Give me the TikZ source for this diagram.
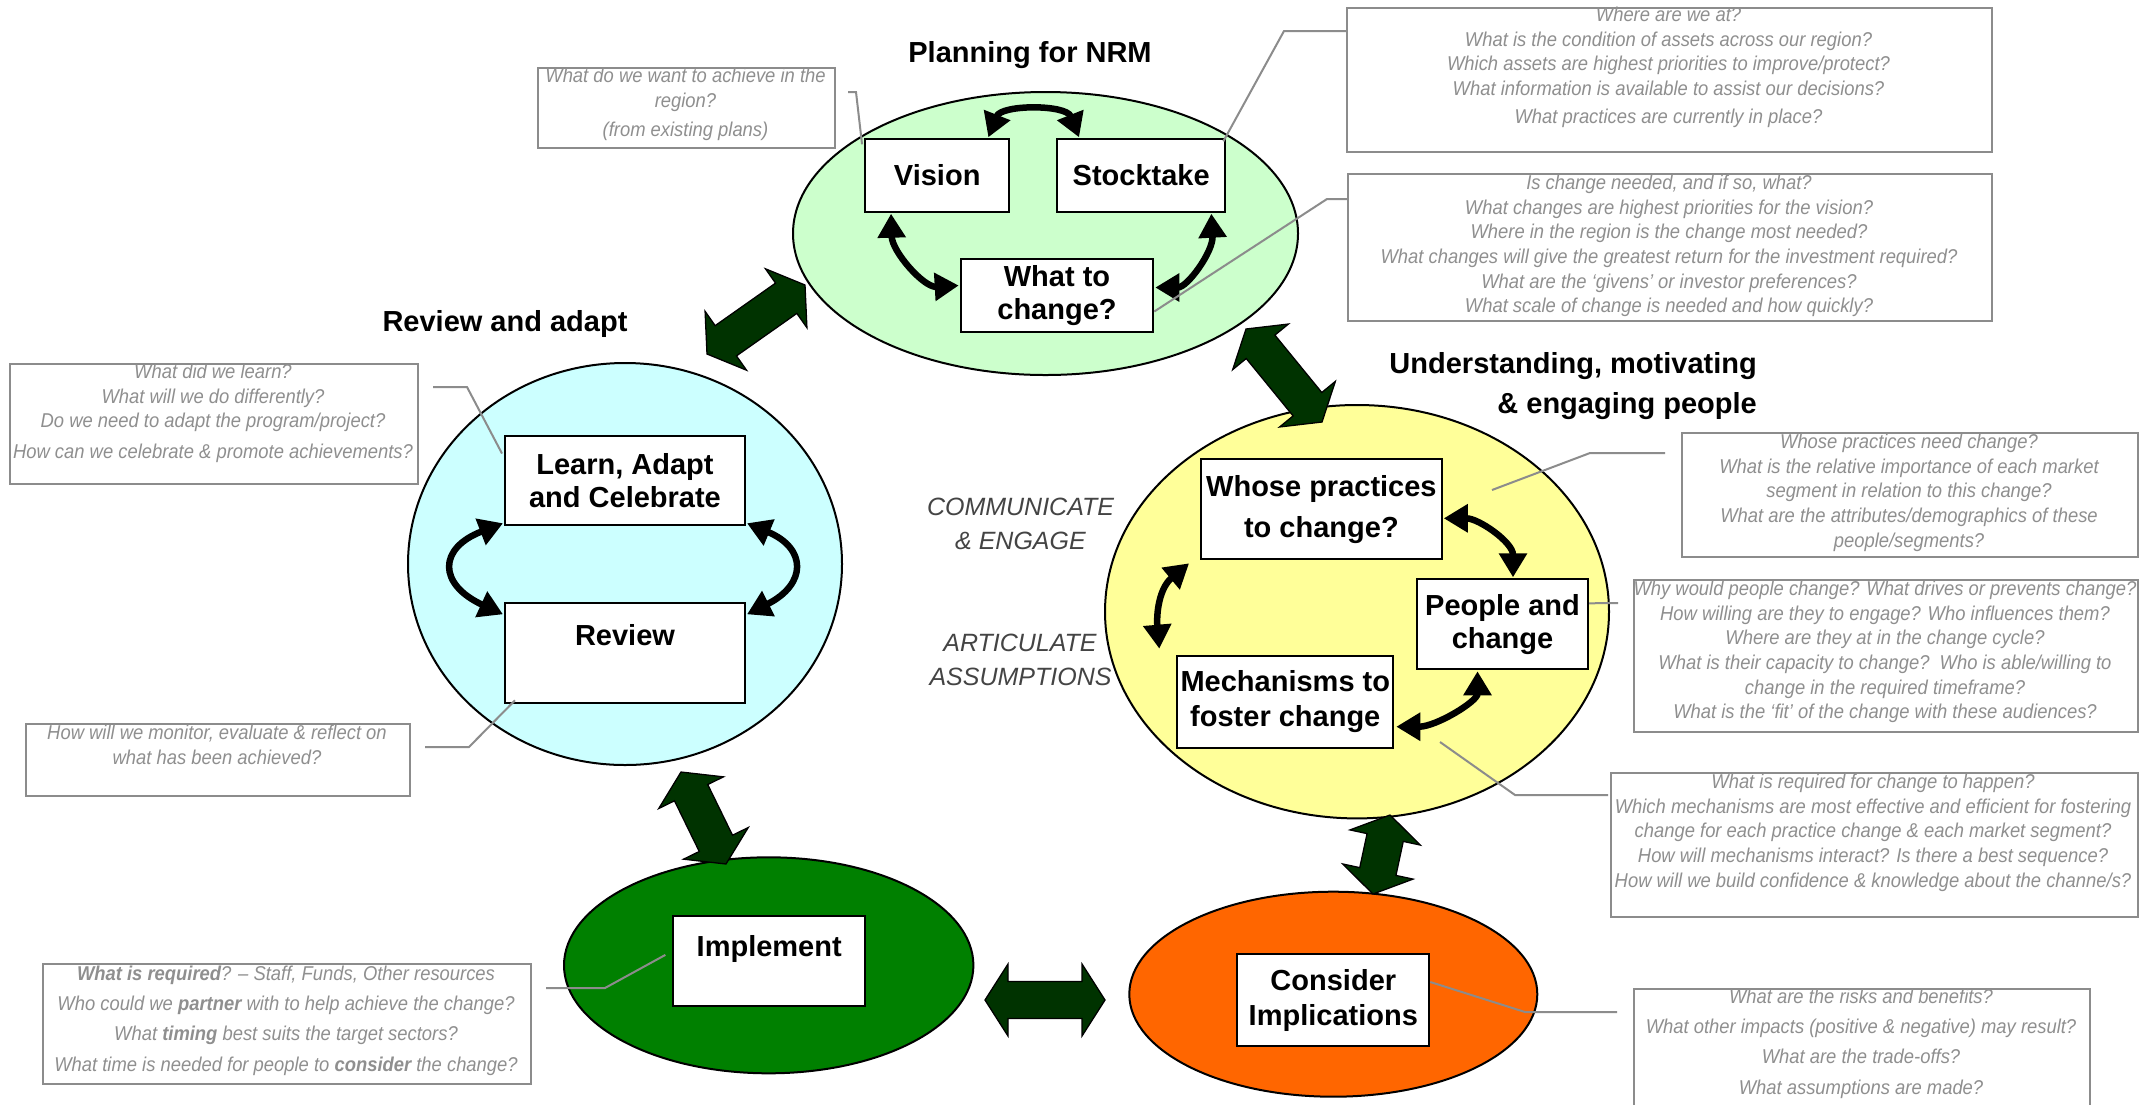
\documentclass[tikz,border=0pt]{standalone}
\usepackage{fontspec}
\setmainfont{Liberation Sans}
\newfontfamily\qfont[FakeStretch=0.92]{Liberation Sans}
\usetikzlibrary{calc,arrows.meta}
\definecolor{lgreen}{HTML}{CCFFCC}
\definecolor{lcyan}{HTML}{CCFFFF}
\definecolor{lyellow}{HTML}{FFFF99}
\definecolor{orng}{HTML}{FF6600}
\definecolor{mgreen}{HTML}{008000}
\definecolor{dgreen}{HTML}{003300}
\definecolor{qgrey}{HTML}{8C8C8C}
\definecolor{qtext}{HTML}{8F8F8F}
\definecolor{sidegrey}{HTML}{444444}
\newcommand\dblarrow[2]{%
 \filldraw[bigarrow] (#1) -- ($(#1)!23pt!(#2)!36pt!90:(#2)$) -- ($(#1)!23pt!(#2)!18.5pt!90:(#2)$)
 -- ($(#2)!23pt!(#1)!18.5pt!-90:(#1)$) -- ($(#2)!23pt!(#1)!36pt!-90:(#1)$) -- (#2)
 -- ($(#2)!23pt!(#1)!36pt!90:(#1)$) -- ($(#2)!23pt!(#1)!18.5pt!90:(#1)$)
 -- ($(#1)!23pt!(#2)!18.5pt!-90:(#2)$) -- ($(#1)!23pt!(#2)!36pt!-90:(#2)$) -- cycle;}
\tikzset{
 ell/.style={draw=black, line width=2pt},
 lbl/.style={draw=black, line width=2pt, fill=white, font=\fontsize{29}{33}\selectfont\bfseries, align=center, inner sep=0pt},
 ttl/.style={font=\fontsize{29}{33}\selectfont\bfseries, inner sep=0pt},
 side/.style={font=\fontsize{25}{30}\selectfont\itshape, text=sidegrey, inner sep=0pt},
 qbox/.style={draw=qgrey, line width=2.2pt, inner sep=0pt, anchor=north west},
 qtxt/.style={text=qtext, font=\qfont\itshape\fontsize{20}{24.6}\selectfont, align=center, inner sep=0pt, anchor=north},
 leader/.style={draw=qgrey, line width=2pt},
 blk/.style={line width=6.5pt, draw=black, {Triangle[length=24pt,width=27pt]}-{Triangle[length=24pt,width=27pt]}},
 bigarrow/.style={fill=dgreen, draw=black, line width=1.3pt, line join=miter}
}
\begin{document}
\begin{tikzpicture}[x=1pt,y=-1pt]
\useasboundingbox (0,0) rectangle (2149,1104);
\clip (0,0) rectangle (2149,1104);
\fill[white] (0,0) rectangle (2149,1104);

% ellipses
\draw[ell, fill=lgreen] (1045.5,233.5) ellipse [x radius=252.5pt, y radius=141.5pt];
\draw[ell, fill=lcyan] (625,564) ellipse [x radius=217pt, y radius=201pt];
\draw[ell, fill=lyellow] (1357,611.7) ellipse [x radius=252pt, y radius=206.7pt];
\draw[ell, fill=orng] (1333.3,994.2) ellipse [x radius=204pt, y radius=102.5pt];
\draw[ell, fill=mgreen] (768.7,965.3) ellipse [x radius=204.7pt, y radius=108pt];

% big double arrows
\coordinate (aA1) at (707,354); \coordinate (aA2) at (805,285);
\coordinate (aB1) at (1246,329); \coordinate (aB2) at (1322,422);
\coordinate (aC1) at (1390,815); \coordinate (aC2) at (1373,894);
\coordinate (aD1) at (985,1000); \coordinate (aD2) at (1105,1000);
\coordinate (aE1) at (681,772); \coordinate (aE2) at (726,864);
\dblarrow{aA1}{aA2}
\dblarrow{aB1}{aB2}
\dblarrow{aC1}{aC2}
\dblarrow{aD1}{aD2}
\dblarrow{aE1}{aE2}

% titles
\node[ttl, anchor=base] (tplan) at (1030,62) {Planning for NRM};
\node[ttl, anchor=base] (trev) at (505,331) {Review and adapt};
\node[ttl, anchor=base east] (tund1) at (1757,373) {Understanding, motivating};
\node[ttl, anchor=base east] (tund2) at (1757,413) {\& engaging people};

% side labels
\node[side, anchor=base] (s1) at (1020.5,515) {COMMUNICATE};
\node[side, anchor=base] (s2) at (1020.5,549.3) {\& ENGAGE};
\node[side, anchor=base] (s3) at (1020,651.7) {ARTICULATE};
\node[side, anchor=base] (s4) at (1020.5,685) {ASSUMPTIONS};

% label boxes
\node[lbl, minimum width=144.3pt, minimum height=72.4pt] (vision) at (937.2,175.5) {Vision};
\node[lbl, minimum width=168.3pt, minimum height=72.4pt] (stock) at (1141.2,175.5) {Stocktake};
\node[lbl, minimum width=192.6pt, minimum height=72.4pt] (what) at (1057,295.5) {What to\\change?};
\node[lbl, minimum width=240pt, minimum height=89.5pt] (learn) at (625,480.5) {Learn, Adapt\\and Celebrate};
\node[lbl, minimum width=240pt, text height=42pt, text depth=58pt] (review) at (625,653.3) {Review};
\node[lbl, minimum width=240.7pt, minimum height=100pt] (whose) at (1321.4,509.3) {Whose practices\\[8pt]to change?};
\node[lbl, minimum width=171pt, minimum height=90pt] (people) at (1502.5,624.3) {People and\\change};
\node[lbl, minimum width=216pt, minimum height=92pt] (mech) at (1285.3,701.7) {Mechanisms to\\[2pt]foster change};
\node[lbl, minimum width=191.7pt, text height=40.7pt, text depth=49pt] (implement) at (769.2,960.9) {Implement};
\node[lbl, minimum width=192pt, minimum height=92pt] (consider) at (1333.3,1000) {Consider\\[2pt]Implications};

% small curved double arrows
\draw[blk] ($(vision.north east)+(-22,-1)$) .. controls +(13,-33) and +(-13,-33) .. ($(stock.north west)+(23,-1)$);
\draw[blk] ($(vision.south west)+(27,1)$) .. controls +(1,38) and +(-35,2) .. ($(what.west)+(-1,-10)$);
\draw[blk] ($(stock.south east)+(-15,1)$) .. controls +(2,38) and +(32,0) .. ($(what.east)+(1,-8)$);
\draw[blk] ($(learn.south west)+(-1,-3)$) .. controls +(-65,25) and +(-65,-30) .. ($(review.north west)+(-1,12)$);
\draw[blk] ($(learn.south east)+(1,-3)$) .. controls +(60,25) and +(60,-30) .. ($(review.north east)+(1,12)$);
\draw[blk] ($(whose.east)+(1,9)$) .. controls +(35,0) and +(0,-35) .. ($(people.north)+(10.5,-1)$);
\draw[blk] ($(people.south)+(-25,1)$) .. controls +(0,30) and +(40,0) .. ($(mech.east)+(2,25)$);
\draw[blk] ($(whose.south west)+(-11,3)$) .. controls +(-30,25) and +(-3,-35) .. ($(mech.north west)+(-17,-6)$);

% question boxes
\node[qbox, minimum width=297pt, minimum height=80pt] (qv) at (537,67) {};
\node[qbox, minimum width=645pt, minimum height=144pt] (qs) at (1346,7) {};
\node[qbox, minimum width=644pt, minimum height=147pt] (qw) at (1347,173) {};
\node[qbox, minimum width=408pt, minimum height=120pt] (ql) at (9,363) {};
\node[qbox, minimum width=384pt, minimum height=72pt] (qr) at (25,723) {};
\node[qbox, minimum width=488pt, minimum height=120pt] (qi) at (42,963) {};
\node[qbox, minimum width=456pt, minimum height=124pt] (qwh) at (1681,432) {};
\node[qbox, minimum width=504pt, minimum height=152pt] (qp) at (1633,579) {};
\node[qbox, minimum width=527pt, minimum height=144pt] (qm) at (1610,772) {};
\node[qbox, minimum width=456pt, minimum height=140pt] (qc) at (1633,988) {};

% question texts
\node[qtxt] (qvt) at (685.5,68) {What do we want to achieve in the\\region?\\[5pt](from existing plans)};
\node[qtxt] (qst) at (1668.5,7) {Where are we at?\\What is the condition of assets across our region?\\Which assets are highest priorities to improve/protect?\\What information is available to assist our decisions?\\[3pt]What practices are currently in place?};
\node[qtxt] (qwt) at (1669,175) {Is change needed, and if so, what?\\What changes are highest priorities for the vision?\\Where in the region is the change most needed?\\What changes will give the greatest return for the investment required?\\What are the ‘givens’ or investor preferences?\\What scale of change is needed and how quickly?};
\node[qtxt] (qlt) at (213,364) {What did we learn?\\What will we do differently?\\Do we need to adapt the program/project?\\[6pt]How can we celebrate \& promote achievements?};
\node[qtxt] (qrt) at (217,725) {How will we monitor, evaluate \& reflect on\\what has been achieved?};
\node[qtxt] (qit) at (286,966) {\textbf{What is required}? – Staff, Funds, Other resources\\[5.5pt]Who could we \textbf{partner} with to help achieve the change?\\[5.5pt]What \textbf{timing} best suits the target sectors?\\[5.5pt]What time is needed for people to \textbf{consider} the change?};
\node[qtxt] (qwht) at (1909,434) {Whose practices need change?\\What is the relative importance of each market\\segment in relation to this change?\\What are the attributes/demographics of these\\people/segments?};
\node[qtxt] (qpt) at (1885,581) {Why would people change? What drives or prevents change?\\How willing are they to engage? Who influences them?\\Where are they at in the change cycle?\\What is their capacity to change?\ \ Who is able/willing to\\change in the required timeframe?\\What is the ‘fit’ of the change with these audiences?};
\node[qtxt] (qmt) at (1873,774) {What is required for change to happen?\\Which mechanisms are most effective and efficient for fostering\\change for each practice change \& each market segment?\\How will mechanisms interact? Is there a best sequence?\\How will we build confidence \& knowledge about the channe/s?};
\node[qtxt] (qct) at (1861,989) {What are the risks and benefits?\\[5.5pt]What other impacts (positive \& negative) may result?\\[5.5pt]What are the trade-offs?\\[5.5pt]What assumptions are made?};

% leader lines
\coordinate (lv1) at (856,92); \coordinate (lv2) at (848,92);
\coordinate (ls1) at (1284,31); \coordinate (ls2) at (1346,31);
\coordinate (lw1) at (1327,199); \coordinate (lw2) at (1347,199);
\coordinate (ll1) at (467,387); \coordinate (ll2) at (433,387);
\coordinate (lr1) at (469,747); \coordinate (lr2) at (425,747);
\coordinate (li1) at (605,988); \coordinate (li2) at (546,988);
\coordinate (lwh0) at (1492,490); \coordinate (lwh1) at (1590,453); \coordinate (lwh2) at (1665,453);
\coordinate (lp1) at (1618,603);
\coordinate (lm0) at (1440,742); \coordinate (lm1) at (1515,795); \coordinate (lm2) at (1608,795);
\coordinate (lc1) at (1525,1012); \coordinate (lc2) at (1617,1012);
\draw[leader] ($(vision.north west)+(-2,6)$) -- (lv1) -- (lv2);
\draw[leader] ($(stock.north east)+(-3,3)$) -- (ls1) -- (ls2);
\draw[leader] ($(what.east)+(0,16)$) -- (lw1) -- (lw2);
\draw[leader] ($(learn.west)+(-2,-27)$) -- (ll1) -- (ll2);
\draw[leader] ($(review.south west)+(11,-4)$) -- (lr1) -- (lr2);
\draw[leader] ($(implement.west)+(-7,-6)$) -- (li1) -- (li2);
\draw[leader] (lwh0) -- (lwh1) -- (lwh2);
\draw[leader] ($(people.east)+(0,-21)$) -- (lp1);
\draw[leader] (lm0) -- (lm1) -- (lm2);
\draw[leader] ($(consider.east)+(0,-18)$) -- (lc1) -- (lc2);
\end{tikzpicture}
\end{document}
